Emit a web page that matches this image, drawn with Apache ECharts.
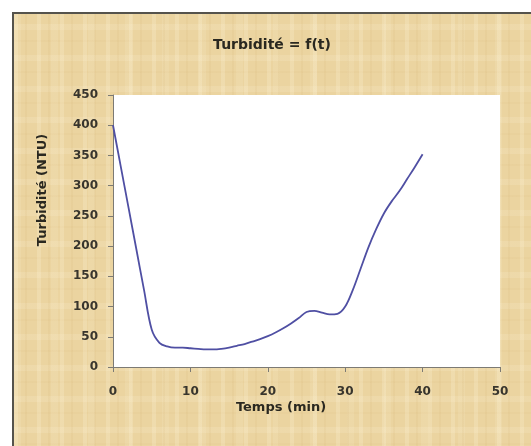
<!DOCTYPE html>
<html>
<head>
<meta charset="utf-8">
<script src="https://cdn.jsdelivr.net/npm/echarts@6/dist/echarts.min.js"></script>
<style>
  html, body { margin: 0; padding: 0; background: #ffffff; }
  #wrap { position: relative; width: 531px; height: 446px; overflow: hidden; background: #ffffff; }
  /* papyrus-like panel behind the chart */
  #paper {
    position: absolute; left: 12px; top: 12px; width: 540px; height: 450px;
    border-left: 2px solid #55534c; border-top: 2px solid #55534c;
    background-color: #ebd4a0;
    background-image:
      repeating-linear-gradient(90deg, rgba(255,246,220,0.22) 0px, rgba(255,246,220,0.22) 4px, rgba(0,0,0,0) 4px, rgba(0,0,0,0) 11px, rgba(195,155,85,0.08) 11px, rgba(195,155,85,0.08) 13px, rgba(0,0,0,0) 13px, rgba(0,0,0,0) 23px),
      repeating-linear-gradient(90deg, rgba(255,246,220,0.12) 0px, rgba(255,246,220,0.12) 7px, rgba(0,0,0,0) 7px, rgba(0,0,0,0) 37px),
      repeating-linear-gradient(0deg, rgba(255,248,228,0.14) 0px, rgba(255,248,228,0.14) 6px, rgba(0,0,0,0) 6px, rgba(0,0,0,0) 19px, rgba(200,160,90,0.06) 19px, rgba(200,160,90,0.06) 21px, rgba(0,0,0,0) 21px, rgba(0,0,0,0) 31px);
  }
  #chart { position: absolute; left: 0; top: 0; width: 531px; height: 446px; }
</style>
</head>
<body>
<div id="wrap">
  <div id="paper"></div>
  <div id="chart"></div>
</div>
<script>
// Turbidity measurements over time
const timeMin = [0, 1, 2, 3, 4, 5, 6, 7, 8, 9, 10, 11, 12, 13, 14, 15, 16, 17, 18, 19, 20,
                 21, 22, 23, 24, 25, 26, 27, 28, 29, 30, 31, 32, 33, 34, 35, 36, 37, 38, 39, 40];
const turbidityNTU = [400, 332, 264, 196, 128, 62, 40, 34, 32, 32, 31, 30, 29, 29, 30, 32, 35, 38, 42, 46, 51,
                      57, 64, 72, 81, 91, 93, 90, 87, 88, 100, 128, 163, 198, 228, 254, 274, 291, 311, 331, 352];
const xTicks = [0, 10, 20, 30, 40, 50];
const yTicks = [0, 50, 100, 150, 200, 250, 300, 350, 400, 450];

const titleText = 'Turbidité = f(t)';
const xName = 'Temps (min)';
const yName = 'Turbidité (NTU)';

const points = timeMin.map((t, i) => [t, turbidityNTU[i]]);

const chart = echarts.init(document.getElementById('chart'), null, { renderer: 'canvas' });

const labelFont = { fontFamily: 'DejaVu Sans', fontWeight: 'bold', fontSize: 12, color: '#38352d' };

chart.setOption({
  backgroundColor: 'transparent',
  animation: false,
  grid: {
    left: 113, top: 95, right: 31, bottom: 79,
    show: true, backgroundColor: '#ffffff', borderWidth: 0
  },
  xAxis: {
    type: 'value',
    min: xTicks[0], max: xTicks[xTicks.length - 1], interval: xTicks[1] - xTicks[0],
    axisLine: { show: true, onZero: false, lineStyle: { color: '#7c7a74', width: 1 } },
    axisTick: { show: true, inside: false, length: 5, lineStyle: { color: '#7c7a74' } },
    axisLabel: Object.assign({ margin: 19 }, labelFont),
    splitLine: { show: false }
  },
  yAxis: {
    type: 'value',
    min: yTicks[0], max: yTicks[yTicks.length - 1], interval: yTicks[1] - yTicks[0],
    axisLine: { show: true, lineStyle: { color: '#7c7a74', width: 1 } },
    axisTick: { show: true, inside: false, length: 5, lineStyle: { color: '#7c7a74' } },
    axisLabel: Object.assign({ margin: 15 }, labelFont),
    splitLine: { show: false }
  },
  graphic: [
    {
      type: 'text', x: 272, y: 45,
      style: {
        text: titleText, fontFamily: 'DejaVu Sans', fontWeight: 'bold', fontSize: 14,
        fill: '#2a2820', align: 'center', verticalAlign: 'middle'
      }
    },
    {
      type: 'text', x: 281, y: 408,
      style: {
        text: xName, fontFamily: 'DejaVu Sans', fontWeight: 'bold', fontSize: 13,
        fill: '#2a2820', align: 'center', verticalAlign: 'middle'
      }
    },
    {
      type: 'text', x: 43, y: 190, rotation: Math.PI / 2,
      style: {
        text: yName, fontFamily: 'DejaVu Sans', fontWeight: 'bold', fontSize: 13,
        fill: '#2a2820', align: 'center', verticalAlign: 'middle'
      }
    }
  ],
  series: [{
    type: 'line',
    data: points,
    smooth: 0.35,
    showSymbol: false,
    lineStyle: { color: '#4f4fa3', width: 1.8 }
  }]
});
</script>
</body>
</html>
